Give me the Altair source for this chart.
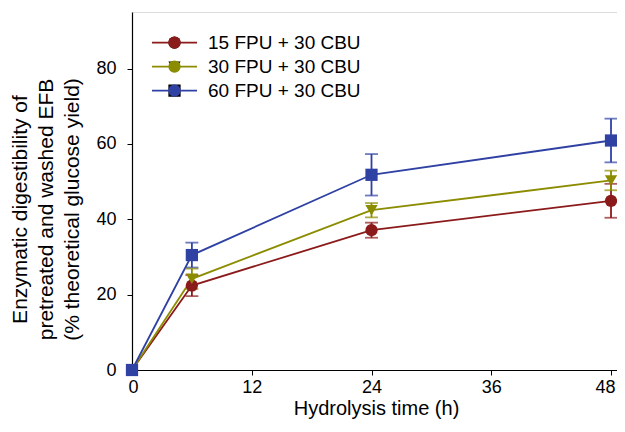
import altair as alt
import pandas as pd

# ---- data ----
times = [0, 6, 24, 48]
series_names = ["15 FPU + 30 CBU", "30 FPU + 30 CBU", "60 FPU + 30 CBU"]
yield_15 = [0.0, 22.4, 37.1, 44.9]
err_15 = [0.0, 2.8, 2.0, 4.5]
yield_30 = [0.0, 24.2, 42.4, 50.3]
err_30 = [0.0, 2.7, 1.9, 2.6]
yield_60 = [0.0, 30.5, 51.8, 60.9]
err_60 = [0.0, 3.3, 5.5, 5.8]

x_ticks = [0, 12, 24, 36, 48]
y_ticks = [0, 20, 40, 60, 80]

colors = ["#8b1a1a", "#8c8c00", "#2f41a3"]
shapes = ["circle", "triangle-down", "square"]

rows = []
for name, ys, es in zip(series_names, [yield_15, yield_30, yield_60], [err_15, err_30, err_60]):
    for t, v, e in zip(times, ys, es):
        rows.append({"series": name, "marker": name, "time": t, "value": v,
                     "err": e, "lo": v - e, "hi": v + e})
df = pd.DataFrame(rows)

FONT = "Liberation Sans"

x_enc = alt.X("time:Q", scale=alt.Scale(domain=[0, 48.6], nice=False, zero=False),
              axis=alt.Axis(values=x_ticks, title="Hydrolysis time (h)", grid=False,
                            domainColor="black", tickColor="black", tickSize=5, domainWidth=1.2,
                            labelFontSize=18, labelFont=FONT, labelColor="black", labelPadding=3,
                            labelFlush=7, labelFlushOffset=4,
                            titleFontSize=20, titleFont=FONT, titleColor="black",
                            titleFontWeight="normal", titleBaseline="alphabetic",
                            titleX=244, titleY=44))
y_axis = alt.Axis(values=y_ticks,
                  title=["Enzymatic digestibility of", "pretreated and washed EFB",
                         "(% theoretical glucose yield)"],
                  grid=False, domainColor="black", tickColor="black", tickSize=5, domainWidth=1.2,
                  labelFontSize=18, labelFont=FONT, labelColor="black", labelPadding=11,
                  titleFontSize=21, titleFont=FONT, titleColor="black",
                  titleFontWeight="normal", titleLineHeight=26, titleBaseline="alphabetic",
                  titleAlign="center", titleX=-106, titleY=197)
y_scale = alt.Scale(domain=[0, 95], nice=False)

color_scale = alt.Scale(domain=series_names, range=colors)

# legend of the lines (short line segments + labels), fixed 24 px rows
line_legend = alt.Legend(orient="none", legendX=19, legendY=18.7, title=None, padding=0,
                         rowPadding=0, clipHeight=24, symbolType="stroke", symbolSize=2025,
                         symbolStrokeWidth=1.8, labelFont=FONT, labelFontSize=19,
                         labelColor="black", labelOffset=10)
# legend of the markers, laid over the line legend (no labels)
marker_legend = alt.Legend(orient="none", legendX=33, legendY=18.7, title=None, padding=0,
                           rowPadding=0, clipHeight=24, symbolSize=150,
                           labelFont=FONT, labelFontSize=19, labelExpr="''",
                           labelOpacity=0, labelOffset=10, symbolOpacity=1)

base = alt.Chart(df)

lines = base.mark_line(strokeWidth=1.8).encode(
    x=x_enc,
    y=alt.Y("value:Q", scale=y_scale, axis=y_axis),
    color=alt.Color("series:N", scale=color_scale, legend=line_legend),
    detail="series:N",
)

err_base = base.transform_filter("datum.err > 0")
bars = err_base.mark_rule(strokeWidth=1.8).encode(
    x="time:Q", y="lo:Q", y2="hi:Q",
    color=alt.Color("series:N", scale=color_scale, legend=None),
)
cap_lo = err_base.mark_tick(orient="horizontal", size=13, thickness=1.8).encode(
    x="time:Q", y="lo:Q",
    color=alt.Color("series:N", scale=color_scale, legend=None),
)
cap_hi = err_base.mark_tick(orient="horizontal", size=13, thickness=1.8).encode(
    x="time:Q", y="hi:Q",
    color=alt.Color("series:N", scale=color_scale, legend=None),
)

points = base.mark_point(filled=True, opacity=1, size=150).encode(
    x="time:Q", y="value:Q",
    color=alt.Color("marker:N", scale=alt.Scale(range=colors), legend=marker_legend),
    shape=alt.Shape("marker:N", scale=alt.Scale(range=shapes), legend=marker_legend),
)

chart = alt.layer(lines, bars, cap_lo, cap_hi, points).resolve_scale(
    color="independent"
).properties(
    width=485, height=358,
    autosize=alt.AutoSizeParams(type="none"),
    padding={"left": 124, "top": 4, "right": 0, "bottom": 50},
).configure_view(stroke=None).configure(background="white")

chart.save("out.html", embed_options={"renderer": "svg", "actions": False})
